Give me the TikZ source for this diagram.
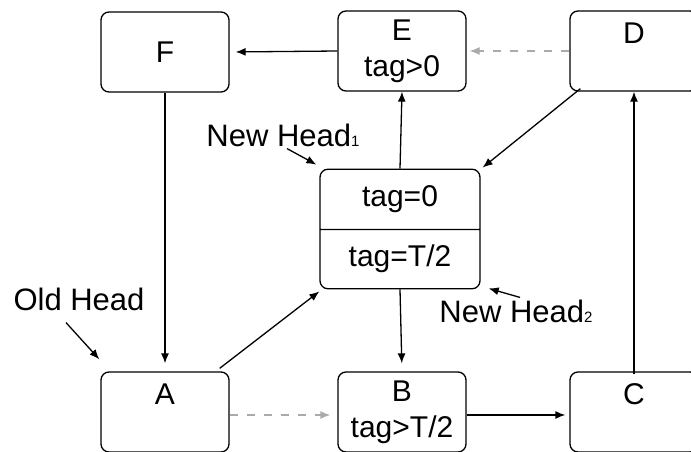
\documentclass[tikz,border=0pt]{standalone}
\usepackage{fontspec}
\setmainfont{Liberation Sans}
\usetikzlibrary{arrows.meta,shapes.multipart}

\definecolor{ghostgray}{RGB}{170,170,170}

\tikzset{
  cell/.style={draw, rounded corners=8pt, line width=1.3pt, minimum width=128pt,
    minimum height=80pt, align=center, inner sep=0pt},
  link/.style={->, line width=1.3pt},
  ghost/.style={->, line width=1.3pt, ghostgray, dash pattern=on 8pt off 9pt},
  tagline/.style={font=\fontsize{31}{36}\selectfont, inner sep=0pt}
}
\newcommand{\sub}[1]{{\fontsize{15}{15}\selectfont #1}}

\begin{document}
\begin{tikzpicture}[x=1pt, y=-1pt, >={Latex[length=10pt,width=8pt]},
  font=\fontsize{30}{36}\selectfont]
\useasboundingbox (0,0) rectangle (691,452);

% Top row
\node[cell] (F) at (165,52) {F};
\node[cell] (E) at (402,51) {E\\tag>0};
\node[cell] (D) at (634,51) {D\\~};

% Middle node with two heads
\node[draw, rounded corners=8pt, line width=1.3pt, rectangle split, rectangle split parts=2,
  minimum width=160pt, text height=22pt, text depth=7pt, inner ysep=15pt, align=center]
  (mid) at (400,229) {tag=0 \nodepart{two} tag=T/2};

% Bottom row
\node[cell] (A) at (165,412) {A\\~};
\node[cell] (B) at (402,412) {B\\tag>T/2};
\node[cell] (C) at (634,412) {C\\~};

% Labels
\node[tagline] (old) at (79,299) {Old Head};
\node[tagline] (nh1) at (283,135) {New Head\sub{1}};
\node[tagline] (nh2) at (516,311) {New Head\sub{2}};

% Ring of links
\draw[link, shorten >=6pt] (E.west) -- (F.east);
\draw[ghost, shorten >=3pt] (D.west) -- (E.east);
\draw[link, shorten >=8pt] (F.south) -- (A.north);
\draw[link] ([yshift=-3pt]C.north) -- (D.south);
\draw[link] (mid.north) -- (E.south);
\draw[link, shorten >=8pt] (mid.south) -- (B.north);
\draw[link, shorten >=4pt] ([yshift=-3pt]B.east) -- ([yshift=-3pt]C.west);
\draw[ghost, shorten >=7pt] ([yshift=-3pt]A.east) -- ([yshift=-3pt]B.west);
\draw[link] ([shift={(11,-3)}]D.south west) -- ([shift={(2,-1)}]mid.north east);
\draw[link] ([shift={(-10,-3)}]A.north east) -- ([shift={(0,2)}]mid.south west);

% Head pointers
\draw[link] ([xshift=-13pt,yshift=-12pt]old.south) -- ([shift={(-1,-12)}]A.north west);
\draw[link] ([xshift=4pt,yshift=-2pt]nh1.south) -- ([shift={(-3,-4)}]mid.north west);
\draw[link] ([xshift=4pt,yshift=2pt]nh2.north) -- ([shift={(8,-1)}]mid.south east);

\end{tikzpicture}
\end{document}
